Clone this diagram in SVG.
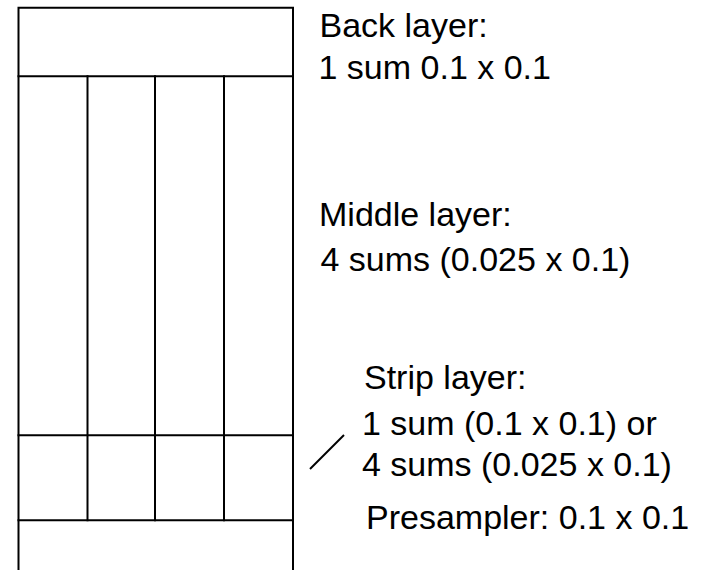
<svg xmlns="http://www.w3.org/2000/svg" width="701" height="570" viewBox="0 0 701 570">
  <style>
    .ln { stroke: #000; stroke-width: 2; fill: none; stroke-linecap: square; }
    .lbl { font-family: "Liberation Sans", Arial, sans-serif; font-size: 34px; fill: #000; }
  </style>
  <rect width="701" height="570" fill="#fff"/>

  <!-- calorimeter tower cross-section -->
  <g id="tower">
    <!-- outer walls -->
    <path class="ln" d="M18.5,571 V7.7 H293 V571"/>
  </g>
  <g id="back-layer">
    <line class="ln" x1="18.5" y1="76.3" x2="293" y2="76.3"/>
  </g>
  <g id="middle-layer">
    <line class="ln" x1="87.5" y1="76.3" x2="87.5" y2="520.3"/>
    <line class="ln" x1="155" y1="76.3" x2="155" y2="520.3"/>
    <line class="ln" x1="224" y1="76.3" x2="224" y2="520.3"/>
  </g>
  <g id="strip-layer">
    <line class="ln" x1="18.5" y1="435.3" x2="293" y2="435.3"/>
    <line class="ln" x1="18.5" y1="520.3" x2="293" y2="520.3"/>
  </g>

  <g id="connectors">
    <line x1="310" y1="469" x2="344" y2="435" stroke="#000" stroke-width="2"/>
  </g>

  <g id="labels">
    <text class="lbl" x="319.5" y="37">Back layer:</text>
    <text class="lbl" x="318.5" y="79">1 sum 0.1 x 0.1</text>
    <text class="lbl" x="319" y="225.7">Middle layer:</text>
    <text class="lbl" x="320.5" y="270.7">4 sums (0.025 x 0.1)</text>
    <text class="lbl" x="364" y="389.3">Strip layer:</text>
    <text class="lbl" x="362" y="435">1 sum (0.1 x 0.1) or</text>
    <text class="lbl" x="362" y="476">4 sums (0.025 x 0.1)</text>
    <text class="lbl" x="366" y="529">Presampler: 0.1 x 0.1</text>
  </g>
</svg>
